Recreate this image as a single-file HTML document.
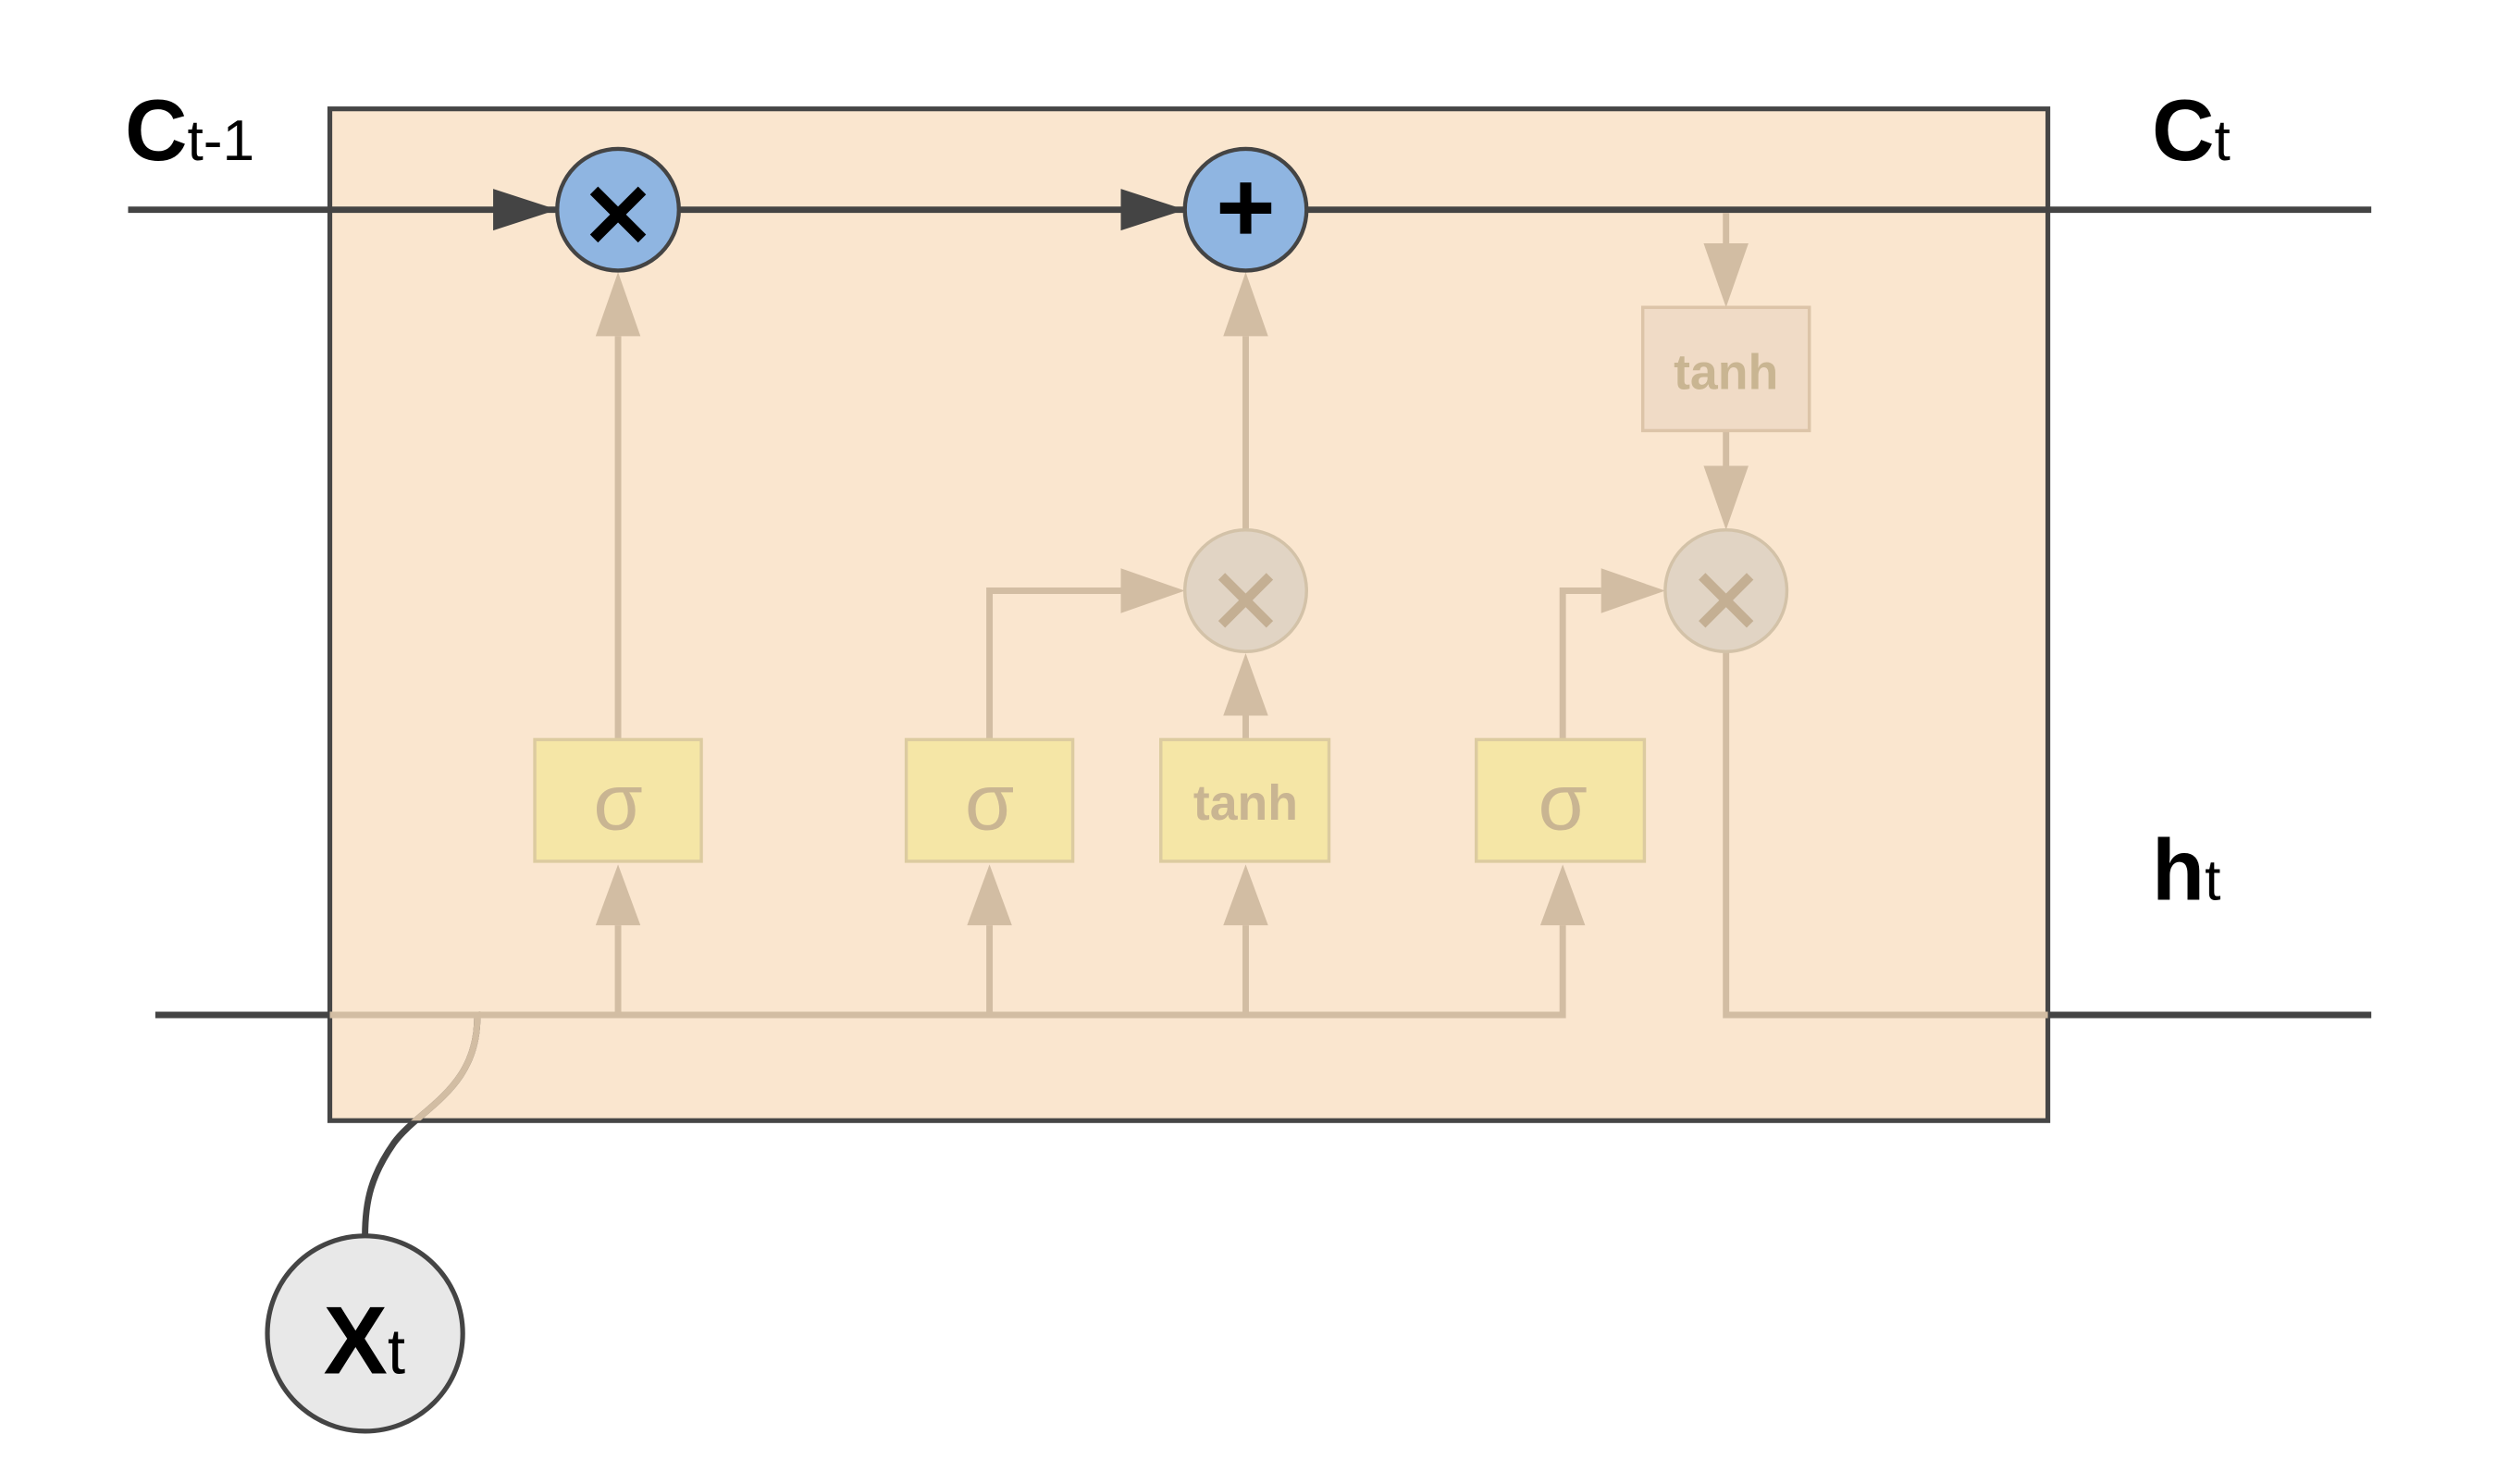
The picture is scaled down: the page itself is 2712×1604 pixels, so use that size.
<!DOCTYPE html>
<html><head><meta charset="utf-8"><style>html,body{margin:0;padding:0;background:#fff}svg{display:block}</style></head>
<body>
<svg width="2712" height="1604" viewBox="0 0 1567 927" preserveAspectRatio="none" xmlns="http://www.w3.org/2000/svg">
<defs><clipPath id="bx"><rect x="206" y="68" width="1073" height="632"/></clipPath></defs>
<rect x="0" y="0" width="1567" height="927" fill="#fff"/>
<rect x="206" y="68" width="1073" height="632" fill="#fae6cf" stroke="#464646" stroke-width="3"/>
<line x1="80" y1="131" x2="1481" y2="131" stroke="#444" stroke-width="4"/>
<line x1="97" y1="634" x2="206" y2="634" stroke="#444" stroke-width="4"/>
<line x1="1279" y1="634" x2="1481" y2="634" stroke="#444" stroke-width="4"/>
<path d="M298,632 C300,680 262,692 246,714 C232,734 228,750 228,772" fill="none" stroke="#444" stroke-width="4"/>
<path d="M298,632 C300,680 262,692 246,714 C232,734 228,750 228,772" fill="none" stroke="#d2bda3" stroke-width="4" clip-path="url(#bx)"/>
<g stroke="#d2bda3" stroke-width="4" fill="none">
<polyline points="206,634 976,634 976,578"/>
<line x1="386" y1="634" x2="386" y2="578"/>
<line x1="618" y1="634" x2="618" y2="578"/>
<line x1="778" y1="634" x2="778" y2="578"/>
<line x1="386" y1="462" x2="386" y2="210"/>
<polyline points="618,462 618,369 700,369"/>
<line x1="778" y1="462" x2="778" y2="447"/>
<line x1="778" y1="331" x2="778" y2="210"/>
<polyline points="976,462 976,369 1000,369"/>
<line x1="1078" y1="133" x2="1078" y2="152"/>
<line x1="1078" y1="269" x2="1078" y2="291"/>
<polyline points="1078,407 1078,634 1279,634"/>
</g>
<g fill="#d2bda3">
<polygon points="386,540 372,578 400,578"/>
<polygon points="618,540 604,578 632,578"/>
<polygon points="778,540 764,578 792,578"/>
<polygon points="976,540 962,578 990,578"/>
<polygon points="386,170 372,210 400,210"/>
<polygon points="778,170 764,210 792,210"/>
<polygon points="778,408 764,447 792,447"/>
<polygon points="740,369 700,355 700,383"/>
<polygon points="1040,369 1000,355 1000,383"/>
<polygon points="1078,192 1064,152 1092,152"/>
<polygon points="1078,331 1064,291 1092,291"/>
</g>
<polygon points="348,131 308,118 308,144" fill="#444"/>
<polygon points="740,131 700,118 700,144" fill="#444"/>
<g fill="#f5e6a6" stroke="#dccba0" stroke-width="2">
<rect x="334" y="462" width="104" height="76"/>
<rect x="566" y="462" width="104" height="76"/>
<rect x="725" y="462" width="105" height="76"/>
<rect x="922" y="462" width="105" height="76"/>
</g>
<rect x="1026" y="192" width="104" height="77" fill="#f0dbc6" stroke="#dcc4a8" stroke-width="2"/>
<g font-family="Liberation Sans, DejaVu Sans, sans-serif" fill="#c9b592" text-anchor="middle">
<text x="386" y="518" font-size="50">σ</text>
<text x="618" y="518" font-size="50">σ</text>
<text x="976" y="518" font-size="50">σ</text>
<text x="778" y="512" font-size="31" font-weight="bold">tanh</text>
<text x="1078" y="243" font-size="31" font-weight="bold">tanh</text>
</g>
<g fill="#e1d4c4" stroke="#d3c2a8" stroke-width="2">
<circle cx="778" cy="369" r="38"/>
<circle cx="1078" cy="369" r="38"/>
</g>
<g stroke="#c4af93" stroke-width="6">
<line x1="763" y1="360" x2="793" y2="390"/><line x1="793" y1="360" x2="763" y2="390"/>
<line x1="1063" y1="360" x2="1093" y2="390"/><line x1="1093" y1="360" x2="1063" y2="390"/>
</g>
<g fill="#8fb5e1" stroke="#444" stroke-width="2.5">
<circle cx="386" cy="131" r="38"/>
<circle cx="778" cy="131" r="38"/>
</g>
<g stroke="#000" stroke-width="7">
<line x1="371" y1="119" x2="401" y2="149"/><line x1="401" y1="119" x2="371" y2="149"/>
<line x1="778" y1="114" x2="778" y2="146"/><line x1="762" y1="130" x2="794" y2="130"/>
</g>
<circle cx="228" cy="833" r="61" fill="#e8e8e8" stroke="#444" stroke-width="3"/>
<g font-family="Liberation Sans, DejaVu Sans, sans-serif" font-weight="bold" fill="#000">
<text x="202" y="858"><tspan font-size="60">X</tspan><tspan font-size="40" font-weight="normal">t</tspan></text>
<text x="78" y="100"><tspan font-size="54">C</tspan><tspan font-size="36" font-weight="normal">t-1</tspan></text>
<text x="1344" y="100"><tspan font-size="54">C</tspan><tspan font-size="36" font-weight="normal">t</tspan></text>
<text x="1344" y="562"><tspan font-size="54">h</tspan><tspan font-size="36" font-weight="normal">t</tspan></text>
</g>
</svg>
</body></html>
